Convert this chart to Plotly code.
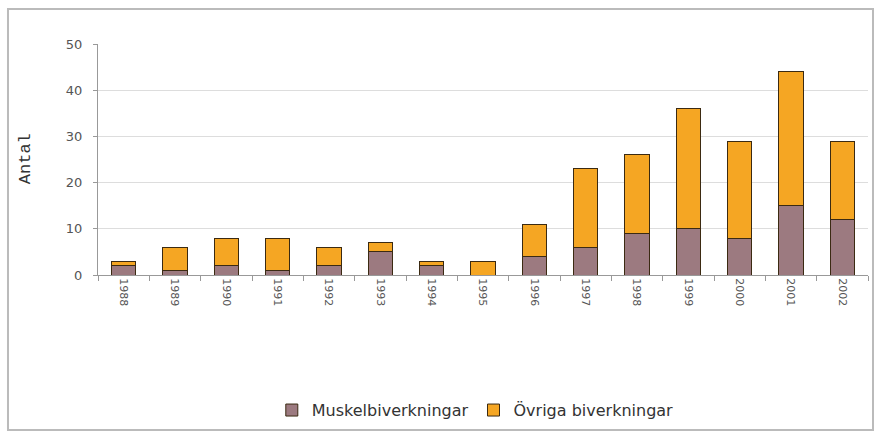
import plotly.graph_objects as go

years = ["1988", "1989", "1990", "1991", "1992", "1993", "1994", "1995",
         "1996", "1997", "1998", "1999", "2000", "2001", "2002"]
muskel = [2, 1, 2, 1, 2, 5, 2, 0, 4, 6, 9, 10, 8, 15, 12]
ovriga = [1, 5, 6, 7, 4, 2, 1, 3, 7, 17, 17, 26, 21, 29, 17]

edge = dict(color="#3b2a12", width=1)
fig = go.Figure()
fig.add_trace(go.Bar(x=years, y=muskel, name="Muskelbiverkningar",
                     marker=dict(color="#9c7a80", line=edge)))
fig.add_trace(go.Bar(x=years, y=ovriga, name="Övriga biverkningar",
                     marker=dict(color="#f5a623", line=edge)))

fig.update_layout(
    barmode="stack",
    bargap=0.53,
    width=877, height=436,
    margin=dict(l=98, r=9, t=44, b=161),
    paper_bgcolor="white", plot_bgcolor="white",
    font=dict(family="DejaVu Sans, Arial", size=11, color="#333"),
    showlegend=True,
    legend=dict(orientation="h", x=0.49, xanchor="center", y=-0.585, yanchor="middle",
                font=dict(size=16, color="#333"), itemwidth=30,
                traceorder="normal"),
    xaxis=dict(tickangle=90, showgrid=False, showline=True, linecolor="#999",
               ticks="outside", tickson="boundaries", ticklen=5, tickcolor="#999",
               tickfont=dict(size=11, color="#555")),
    yaxis=dict(range=[0, 50], dtick=10, showgrid=True, gridcolor="#dddddd",
               showline=True, linecolor="#999", ticks="outside", ticklen=4,
               tickcolor="#999", zeroline=False, ticklabelstandoff=8,
               tickfont=dict(size=13, color="#555")),
    shapes=[dict(type="rect", xref="paper", yref="paper",
                 x0=-0.1169, x1=1.0065, y0=-0.671, y1=1.1515,
                 line=dict(color="#bbb", width=2))],
    annotations=[dict(text="Antal", xref="paper", yref="paper", x=-0.095, y=0.505,
                      xanchor="center", yanchor="middle",
                      textangle=-90, showarrow=False,
                      font=dict(family="Liberation Mono, Courier New", size=17, color="#333"))],
)

fig.write_html("out.html")
